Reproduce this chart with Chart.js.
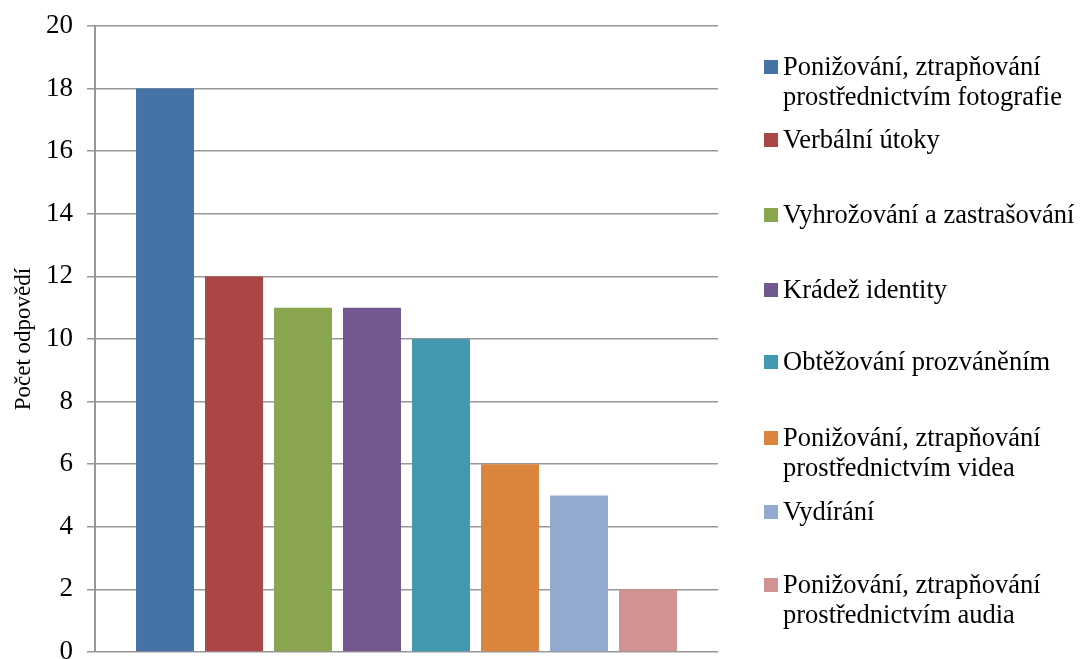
<!DOCTYPE html>
<html>
<head>
<meta charset="utf-8">
<script src="https://cdn.jsdelivr.net/npm/chart.js@4/dist/chart.umd.min.js"></script>
<style>
  html, body { margin: 0; padding: 0; background: #fff; overflow: hidden; width: 1081px; height: 659px; }
  #wrap { position: relative; width: 1081px; height: 659px; overflow: hidden; }
  canvas { position: absolute; left: 0; top: 0; }
  #legend { position: absolute; left: 0; top: 0; width: 1081px; height: 659px; pointer-events: none;
            font-family: "Liberation Serif", "Times New Roman", serif; font-size: 26.5px; line-height: 30px; color: #000; }
  .item { position: absolute; left: 764px; }
  .sw { position: absolute; left: 0; top: 9px; width: 14px; height: 14px; }
  .tx { position: absolute; left: 19px; white-space: nowrap; }
</style>
</head>
<body>
<div id="wrap">
  <canvas id="c" width="1081" height="690"></canvas>
  <div id="legend"></div>
</div>
<script>
const categories = [''];
const seriesNames = [
  'Ponižování, ztrapňování prostřednictvím fotografie',
  'Verbální útoky',
  'Vyhrožování a zastrašování',
  'Krádež identity',
  'Obtěžování prozváněním',
  'Ponižování, ztrapňování prostřednictvím videa',
  'Vydírání',
  'Ponižování, ztrapňování prostřednictvím audia'
];
const legendLines = [
  ['Ponižování, ztrapňování', 'prostřednictvím fotografie'],
  ['Verbální útoky'],
  ['Vyhrožování a zastrašování'],
  ['Krádež identity'],
  ['Obtěžování prozváněním'],
  ['Ponižování, ztrapňování', 'prostřednictvím videa'],
  ['Vydírání'],
  ['Ponižování, ztrapňování', 'prostřednictvím audia']
];
const seriesValues = [18, 12, 11, 11, 10, 6, 5, 2];
const seriesColors = ['#4572A7', '#AA4643', '#89A54E', '#71588F', '#4198AF', '#DB843D', '#93A9CF', '#D19392'];
const legendTops = [51, 124, 199, 274, 346, 422, 496, 569];
const yTicks = { min: 0, max: 20, step: 2 };
const yTitle = 'Počet odpovědí';

const datasets = seriesNames.map((name, i) => ({
  label: name,
  data: [seriesValues[i]],
  backgroundColor: seriesColors[i],
  borderWidth: 0,
  categoryPercentage: 0.886,
  barPercentage: 0.84
}));

const gridColor = '#979797';

new Chart(document.getElementById('c'), {
  type: 'bar',
  data: { labels: categories, datasets },
  options: {
    responsive: false,
    animation: false,
    events: [],
    layout: { padding: { left: 10, top: 26, right: 363, bottom: 38 } },
    plugins: { legend: { display: false }, tooltip: { enabled: false } },
    scales: {
      x: { display: false },
      y: {
        min: yTicks.min, max: yTicks.max,
        ticks: { stepSize: yTicks.step, color: '#000', padding: 14,
                 font: { family: '"Liberation Serif", "Times New Roman", serif', size: 27 } },
        grid: { color: gridColor, lineWidth: 1.5, tickLength: 8 },
        border: { display: true, color: gridColor, width: 2 },
        title: { display: true, text: yTitle, color: '#000', padding: { top: 0, bottom: 0 },
                 font: { family: '"Liberation Serif", "Times New Roman", serif', size: 23 } },
        afterFit: (scale) => { scale.width = 85; scale.paddingTop = 0; scale.paddingBottom = 0; }
      }
    }
  }
});

const leg = document.getElementById('legend');
legendLines.forEach((lines, i) => {
  const it = document.createElement('div');
  it.className = 'item';
  it.style.top = legendTops[i] + 'px';
  const sw = document.createElement('div');
  sw.className = 'sw';
  sw.style.background = seriesColors[i];
  const tx = document.createElement('div');
  tx.className = 'tx';
  tx.innerHTML = lines.join('<br>');
  it.appendChild(sw); it.appendChild(tx);
  leg.appendChild(it);
});
</script>
</body>
</html>
